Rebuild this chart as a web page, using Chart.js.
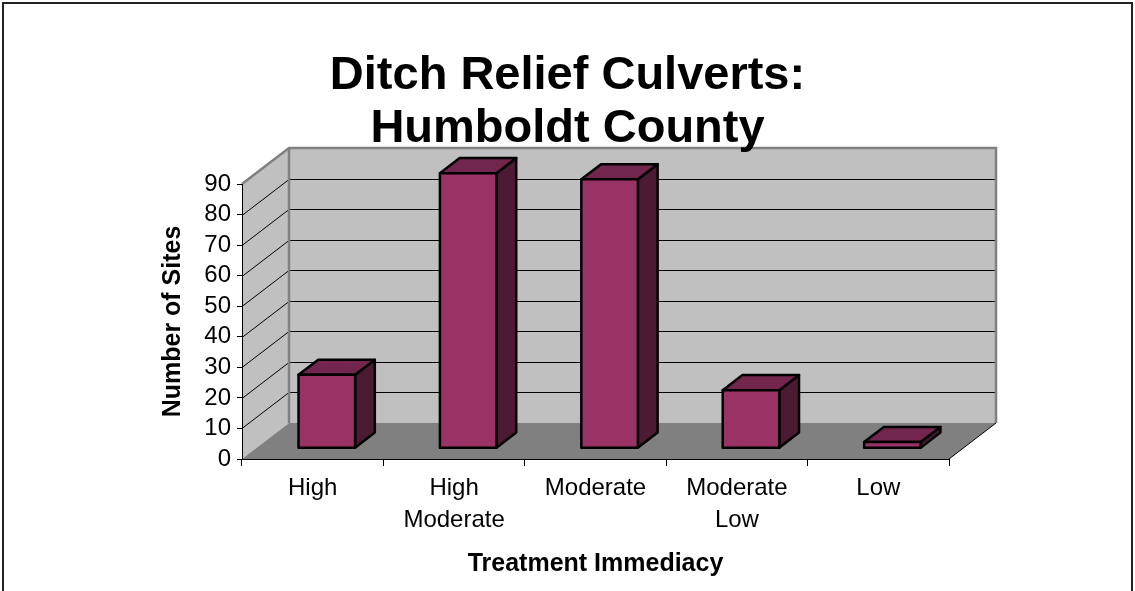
<!DOCTYPE html>
<html>
<head>
<meta charset="utf-8">
<script src="https://cdn.jsdelivr.net/npm/chart.js@4"></script>
<style>
  html, body { margin: 0; padding: 0; background: #fff; }
  #wrap { width: 1135px; height: 591px; position: relative; }
</style>
</head>
<body>
<div id="wrap"><canvas id="culverts"></canvas></div>
<script>
// chart values
var categories = [['High'], ['High', 'Moderate'], ['Moderate'], ['Moderate', 'Low'], ['Low']];
var siteCounts = [24, 90, 88, 19, 2];
var yMin = 0, yMax = 90, yStep = 10;
var chartTitle = ['Ditch Relief Culverts:', 'Humboldt County'];
var xTitle = 'Treatment Immediacy';
var yTitle = 'Number of Sites';

// 3d look
var DX = 47, DY = -36;          // depth of the floor / walls
var BAR_FRONT = 0.3, BAR_BACK = 0.72;
var FONT = "'Liberation Sans', Arial, sans-serif";

function line(ctx, x1, y1, x2, y2) {
	ctx.beginPath();
	ctx.moveTo(x1, y1);
	ctx.lineTo(x2, y2);
	ctx.stroke();
}

function poly(ctx, pts, fill) {
	ctx.beginPath();
	ctx.moveTo(pts[0][0], pts[0][1]);
	for (var i = 1; i < pts.length; i++) ctx.lineTo(pts[i][0], pts[i][1]);
	ctx.closePath();
	ctx.fillStyle = fill;
	ctx.fill();
}

var wallsPlugin = {
	id: 'walls',
	beforeDraw: function(chart) {
		var ctx = chart.ctx, a = chart.chartArea, y = chart.scales.y;
		ctx.save();
		// left wall, back wall, floor
		poly(ctx, [[a.left, a.bottom], [a.left, a.top], [a.left + DX, a.top + DY], [a.left + DX, a.bottom + DY]], '#c0c0c0');
		poly(ctx, [[a.left + DX, a.top + DY], [a.right + DX, a.top + DY], [a.right + DX, a.bottom + DY], [a.left + DX, a.bottom + DY]], '#c0c0c0');
		poly(ctx, [[a.left, a.bottom], [a.right, a.bottom], [a.right + DX, a.bottom + DY], [a.left + DX, a.bottom + DY]], '#808080');

		// gridlines on the walls
		ctx.strokeStyle = '#000';
		ctx.lineWidth = 1;
		y.ticks.forEach(function(t) {
			if (t.value <= yMin || t.value >= yMax) return;
			var py = Math.round(y.getPixelForValue(t.value)) + 0.5;
			line(ctx, a.left, py, a.left + DX, py + DY);
			line(ctx, a.left + DX, py + DY, a.right + DX, py + DY);
		});

		// wall edges
		ctx.strokeStyle = '#808080';
		ctx.lineWidth = 2.5;
		ctx.beginPath();
		ctx.moveTo(a.left, a.top);
		ctx.lineTo(a.left + DX, a.top + DY);
		ctx.lineTo(a.right + DX, a.top + DY);
		ctx.lineTo(a.right + DX, a.bottom + DY);
		ctx.stroke();
		line(ctx, a.left + DX, a.top + DY, a.left + DX, a.bottom + DY);

		ctx.strokeStyle = '#000';
		ctx.lineWidth = 1;
		line(ctx, a.right, a.bottom, a.right + DX, a.bottom + DY);
		ctx.restore();
	},
	afterDatasetsDraw: function(chart) {
		var ctx = chart.ctx;
		var meta = chart.getDatasetMeta(0);
		ctx.save();
		ctx.lineWidth = 2.5;
		ctx.lineJoin = 'round';
		ctx.strokeStyle = '#000';
		meta.data.forEach(function(bar) {
			var p = bar.getProps(['x', 'y', 'base', 'width'], true);
			var x1 = p.x - p.width / 2 + DX * BAR_FRONT, x2 = p.x + p.width / 2 + DX * BAR_FRONT;
			var yt = p.y + DY * BAR_FRONT, yb = p.base + DY * BAR_FRONT;
			var ox = DX * (BAR_BACK - BAR_FRONT), oy = DY * (BAR_BACK - BAR_FRONT);
			var faces = [
				[[[x2, yt], [x2 + ox, yt + oy], [x2 + ox, yb + oy], [x2, yb]], '#4d1a33'],
				[[[x1, yt], [x1 + ox, yt + oy], [x2 + ox, yt + oy], [x2, yt]], '#73264d'],
				[[[x1, yt], [x2, yt], [x2, yb], [x1, yb]], '#993366']
			];
			faces.forEach(function(f) {
				poly(ctx, f[0], f[1]);
				ctx.stroke();
			});
		});
		ctx.restore();
	},
	afterDraw: function(chart) {
		var ctx = chart.ctx;
		ctx.save();
		ctx.strokeStyle = '#222';
		ctx.lineWidth = 2;
		ctx.strokeRect(3, 3, 1129, 700);
		ctx.restore();
	}
};

var culvertChart = new Chart(document.getElementById('culverts'), {
	type: 'bar',
	data: {
		labels: categories,
		datasets: [{
			label: yTitle,
			data: siteCounts,
			backgroundColor: 'rgba(0,0,0,0)',
			borderWidth: 0,
			barPercentage: 0.4,
			categoryPercentage: 1
		}]
	},
	plugins: [wallsPlugin],
	options: {
		responsive: true,
		maintainAspectRatio: false,
		animation: false,
		layout: { padding: 0 },
		plugins: {
			legend: { display: false },
			tooltip: { enabled: false },
			title: {
				display: true,
				text: chartTitle,
				color: '#000',
				font: { family: FONT, size: 47, weight: 'bold', lineHeight: 53 / 47 },
				padding: { top: 50, bottom: 28 }
			}
		},
		scales: {
			x: {
				grid: { drawOnChartArea: false, color: '#000', tickLength: 7, offset: true },
				border: { display: true, color: '#000', width: 1 },
				ticks: {
					color: '#000', padding: 6, maxRotation: 0, autoSkip: false,
					font: { family: FONT, size: 24, lineHeight: 32 / 24 }
				},
				title: {
					display: true, text: xTitle, color: '#000',
					font: { family: FONT, size: 25, weight: 'bold', lineHeight: 1.2 },
					padding: { top: 0, bottom: 12 }
				},
				afterFit: function(scale) { scale.height = 132; }
			},
			y: {
				min: yMin,
				max: yMax,
				grid: { drawOnChartArea: false, color: '#000', tickLength: 5 },
				border: { display: true, color: '#000', width: 1 },
				ticks: {
					stepSize: yStep, autoSkip: false, color: '#000', padding: 6,
					font: { family: FONT, size: 24 }
				},
				title: {
					display: true, text: yTitle, color: '#000',
					font: { family: FONT, size: 25, weight: 'bold', lineHeight: 1.2 },
					padding: { top: 158, bottom: 0 }
				},
				afterFit: function(scale) { scale.width = 242; }
			},
			spare: {
				type: 'linear',
				position: 'right',
				display: true,
				grid: { display: false },
				border: { display: false },
				ticks: { display: false },
				afterFit: function(scale) { scale.width = 186; }
			}
		}
	}
});
</script>
</body>
</html>
